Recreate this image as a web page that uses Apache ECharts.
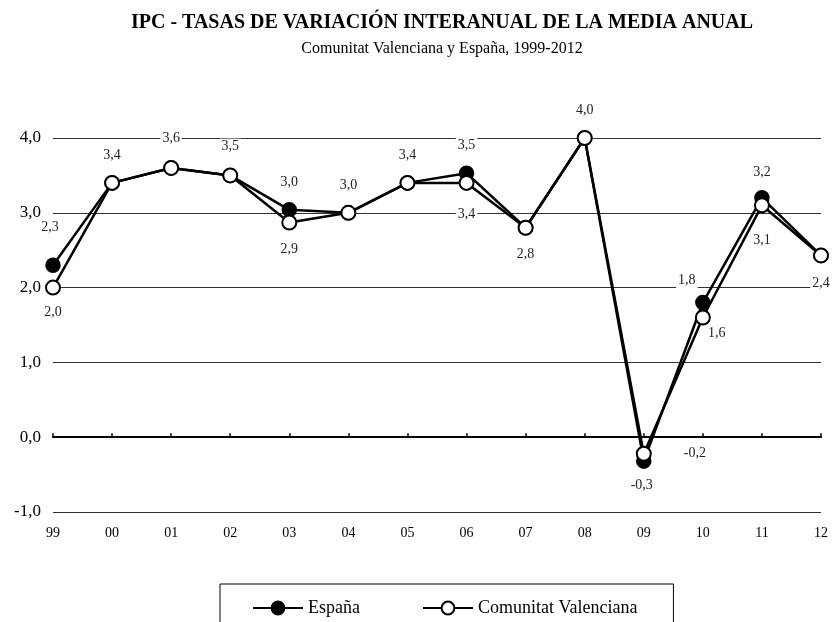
<!DOCTYPE html>
<html>
<head>
<meta charset="utf-8">
<script src="https://cdn.jsdelivr.net/npm/echarts@6/dist/echarts.min.js"></script>
<style>
html, body { margin: 0; padding: 0; background: #fff; }
#chart { width: 832px; height: 622px; }
</style>
</head>
<body>
<div id="chart"></div>
<script>
// años
var years = ['99', '00', '01', '02', '03', '04', '05', '06', '07', '08', '09', '10', '11', '12'];
// tasas de variación (%)
var espana = [2.3, 3.4, 3.6, 3.5, 3.04, 3.0, 3.4, 3.53, 2.8, 4.0, -0.32, 1.8, 3.2, 2.43];
var comunitat = [2.0, 3.4, 3.6, 3.5, 2.87, 3.0, 3.4, 3.4, 2.8, 4.0, -0.22, 1.6, 3.1, 2.43];
// colocación de etiquetas: [posición, distancia, desplazamiento x] (null = sin etiqueta)
var espanaLabels = [['top', 22, -3], ['top', 12, 0], ['top', 14, 0], ['top', 13, 0], ['top', 12, 0], ['top', 12, 0], ['top', 12, 0],
	['top', 12, 0], null, ['top', 12, 0], ['bottom', 8, -2], ['top', 6, -16], ['top', 10, 0], null];
var comunitatLabels = [['bottom', 9, 0], null, null, null, ['bottom', 11, 0], null, null,
	['bottom', 15, 0], ['bottom', 11, 0], null, ['right', 30, 0], ['bottom', 0, 14], ['bottom', 19, 0], ['bottom', 12, 0]];

var serif = '"Liberation Serif", "Times New Roman", serif';

function fmt(v) {
	return v.toFixed(1).replace('.', ',');
}

function buildData(values, labels) {
	return values.map(function (v, i) {
		var l = labels[i];
		if (!l) return { value: v, label: { show: false } };
		return { value: v, label: { show: true, position: l[0], distance: l[1], offset: [l[2], 0] } };
	});
}

var labelStyle = {
	fontFamily: serif,
	fontSize: 14,
	color: '#222',
	backgroundColor: '#fff',
	padding: [1, 2],
	formatter: function (p) { return fmt(p.value); }
};

var chartDom = document.getElementById('chart');
var myChart = echarts.init(chartDom);
var option = {
	animation: false,
	title: {
		text: 'IPC - TASAS DE VARIACIÓN INTERANUAL DE LA MEDIA ANUAL',
		subtext: 'Comunitat Valenciana y España, 1999-2012',
		left: 442,
		top: 13,
		padding: 0,
		itemGap: 8,
		textAlign: 'center',
		textStyle: { fontFamily: serif, fontSize: 20, fontWeight: 'bold', color: '#000' },
		subtextStyle: { fontFamily: serif, fontSize: 16, color: '#000' }
	},
	legend: {
		left: 220,
		top: 584,
		padding: [15, 36, 15, 32],
		borderColor: '#000',
		borderWidth: 1,
		itemWidth: 50,
		itemHeight: 16,
		itemGap: 62,
		textStyle: { fontFamily: serif, fontSize: 18, color: '#000' },
		data: ['España', 'Comunitat Valenciana']
	},
	grid: {
		left: 53,
		right: 11,
		top: 138,
		bottom: 110
	},
	xAxis: [
		{
			type: 'category',
			data: years,
			boundaryGap: false,
			axisLine: { onZero: true, lineStyle: { color: '#000', width: 2 } },
			axisTick: { show: true, inside: true, length: 4, alignWithLabel: true, lineStyle: { color: '#000', width: 1.5 } },
			axisLabel: { show: false },
			splitLine: { show: false }
		},
		{
			type: 'category',
			data: years,
			boundaryGap: false,
			position: 'bottom',
			axisLine: { show: false, onZero: false },
			axisTick: { show: false },
			axisLabel: { show: true, margin: 14, fontFamily: serif, fontSize: 14, color: '#000' },
			splitLine: { show: false }
		}
	],
	yAxis: {
		type: 'value',
		min: -1,
		max: 4,
		interval: 1,
		axisLine: { show: false },
		axisTick: { show: false },
		axisLabel: {
			margin: 12,
			fontFamily: serif,
			fontSize: 17,
			color: '#000',
			formatter: function (v) { return fmt(v); }
		},
		splitLine: {
			show: true,
			lineStyle: { color: '#333', width: 1 }
		}
	},
	series: [
		{
			name: 'España',
			type: 'line',
			xAxisIndex: 0,
			data: buildData(espana, espanaLabels),
			symbol: 'circle',
			symbolSize: 14,
			lineStyle: { color: '#000', width: 2.5 },
			itemStyle: { color: '#000', borderColor: '#000', borderWidth: 1.5 },
			label: labelStyle,
			z: 3
		},
		{
			name: 'Comunitat Valenciana',
			type: 'line',
			xAxisIndex: 0,
			data: buildData(comunitat, comunitatLabels),
			symbol: 'circle',
			symbolSize: 14,
			lineStyle: { color: '#000', width: 2.5 },
			itemStyle: { color: '#fff', borderColor: '#000', borderWidth: 2 },
			label: labelStyle,
			z: 4
		}
	]
};
option && myChart.setOption(option);
</script>
</body>
</html>
